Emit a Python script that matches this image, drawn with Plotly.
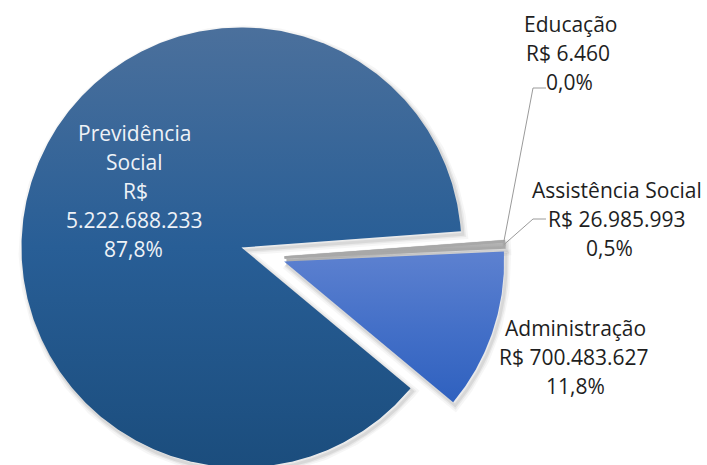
import math
import plotly.graph_objects as go

# Budget split by function (R$)
categories = ["Previdência Social", "Administração", "Assistência Social", "Educação"]
values = [5222688233, 700483627, 26985993, 6460]

# Label lines shown next to each slice (name split where it wraps)
label_names = {
    "Previdência Social": ["Previdência", "Social"],
    "Administração": ["Administração"],
    "Assistência Social": ["Assistência Social"],
    "Educação": ["Educação"],
}

W, H = 707, 465
CX, CY, R = 241.5, 217.5, 220.0      # pie centre / radius in pixel units (y up)
ROTATION = 129.8                      # clockwise angle from 12 o'clock where the first slice starts

# exploded slices: shift of the slice vertex (dx, dy) in pixels
explode = {
    "Administração": (42.6, -14.0),
    "Assistência Social": (43.0, -10.0),
    "Educação": (43.0, -10.0),
}

fills = {
    "Previdência Social": ("#1b4d7d", "#285e96", "#4b709c"),
    "Administração": ("#2f61bf", "#4470c8", "#5d81d0"),
    "Assistência Social": ("#9c9c9c", "#a8a8a8", "#b8b8b8"),
    "Educação": ("#9c9c9c", "#a8a8a8", "#b8b8b8"),
}

total = sum(values)
spans = [v / total * 360.0 for v in values]

# angular range of each slice (clockwise degrees from 12 o'clock),
# first slice runs clockwise from ROTATION, the rest follow counter-clockwise
ranges = [(ROTATION, ROTATION + spans[0])]
cur = ROTATION
for s in spans[1:]:
    ranges.append((cur - s, cur))
    cur -= s


def wedge(vx, vy, a0, a1, r=R):
    n = max(2, int(abs(a1 - a0) / 0.5) + 2)
    xs, ys = [vx], [vy]
    for k in range(n + 1):
        a = math.radians(a0 + (a1 - a0) * k / n)
        xs.append(vx + r * math.sin(a))
        ys.append(vy + r * math.cos(a))
    xs.append(vx)
    ys.append(vy)
    return xs, ys


fig = go.Figure()

geo = []
for name, (a0, a1) in zip(categories, ranges):
    dx, dy = explode.get(name, (0.0, 0.0))
    geo.append((name, CX + dx, CY + dy, a0, a1))

# soft drop shadow under every slice
for name, vx, vy, a0, a1 in geo:
    xs, ys = wedge(vx + 2.0, vy - 3.0, a0, a1)
    for w, alpha in ((10, 0.035), (6, 0.05), (3, 0.07)):
        fig.add_trace(go.Scatter(
            x=xs, y=ys, mode="lines", line=dict(color=f"rgba(0,0,0,{alpha})", width=w),
            hoverinfo="skip", showlegend=False))

# slices with vertical gradient fill
for name, vx, vy, a0, a1 in geo:
    xs, ys = wedge(vx, vy, a0, a1)
    bottom, mid, top = fills[name]
    is_sliver = name in ("Assistência Social", "Educação")
    fig.add_trace(go.Scatter(
        x=xs, y=ys, mode="lines", fill="toself",
        fillgradient=dict(type="vertical", colorscale=[[0, bottom], [0.5, mid], [1, top]]),
        line=dict(color=mid if is_sliver else "rgba(0,0,0,0)", width=2.5 if is_sliver else 0),
        hoverinfo="skip", showlegend=False, name=name))


def outer_point(name, frac=0.5):
    for n, vx, vy, a0, a1 in geo:
        if n == name:
            a = math.radians(a0 + (a1 - a0) * frac)
            return vx + R * math.sin(a), vy + R * math.cos(a)


def brl(v):
    return "R$ " + f"{v:,}".replace(",", ".")


def pct(v):
    return f"{v / total * 100:.1f}%".replace(".", ",")


# label blocks: per-line centre x, top line y (pixels from top)
blocks = {
    "Previdência Social": dict(xs=[134, 134, 135, 134, 133], y0=133, color="#eef2f7",
                               lines=label_names["Previdência Social"] + ["R$", f"{values[0]:,}".replace(",", "."), pct(values[0])]),
    "Administração": dict(xs=[575, 574, 575], y0=328, color="#1e1e1e",
                          lines=label_names["Administração"] + [brl(values[1]), pct(values[1])]),
    "Assistência Social": dict(xs=[617, 617, 609], y0=190, color="#1e1e1e",
                               lines=label_names["Assistência Social"] + [brl(values[2]), pct(values[2])]),
    "Educação": dict(xs=[571, 568, 569], y0=24, color="#1e1e1e",
                     lines=label_names["Educação"] + [brl(values[3]), pct(values[3])]),
}
LINE_STEP = 29

annotations = []
for name, b in blocks.items():
    for i, (txt, x) in enumerate(zip(b["lines"], b["xs"])):
        annotations.append(dict(
            x=x, y=H - (b["y0"] + i * LINE_STEP), xref="x", yref="y", text=txt,
            showarrow=False, xanchor="center", yanchor="middle",
            font=dict(family="Open Sans", size=21, color=b["color"])))

# leader lines from the small slices to their labels
for name, elbow_y, frac in (("Educação", 88, 0.5), ("Assistência Social", 219, 0.5)):
    ex, ey = outer_point(name, frac)
    fig.add_trace(go.Scatter(
        x=[546, 533, ex], y=[H - elbow_y, H - elbow_y, ey], mode="lines",
        line=dict(color="#9a9a9a", width=1), hoverinfo="skip", showlegend=False))

fig.update_layout(
    width=W, height=H,
    margin=dict(l=0, r=0, t=0, b=0),
    paper_bgcolor="white", plot_bgcolor="white",
    xaxis=dict(range=[0, W], visible=False, fixedrange=True),
    yaxis=dict(range=[0, H], visible=False, fixedrange=True),
    showlegend=False, hovermode=False,
    annotations=annotations,
)

fig.write_html("out.html")
